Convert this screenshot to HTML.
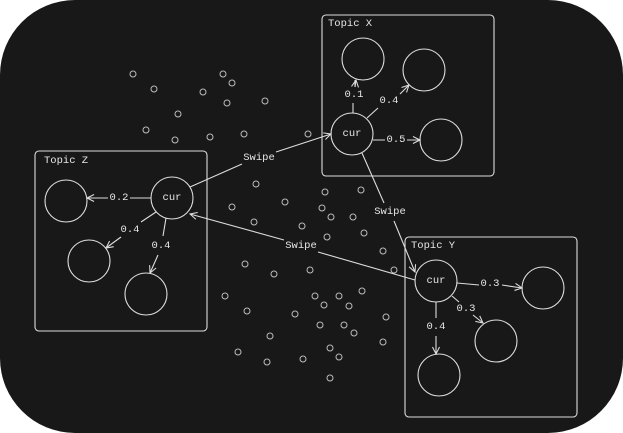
<!DOCTYPE html>
<html><head><style>
html,body{margin:0;padding:0;background:#fff;width:623px;height:433px;overflow:hidden}
svg text{font-family:"Liberation Mono",monospace;font-size:10.5px;fill:#e6e6e6;text-anchor:middle;dominant-baseline:central}
</style></head><body>
<svg width="623" height="433" viewBox="0 0 623 433" xmlns="http://www.w3.org/2000/svg">
<defs><marker id="a" viewBox="0 0 10 10" refX="9" refY="5" markerWidth="8" markerHeight="8" orient="auto"><path d="M1,1 L9,5 L1,9" fill="none" stroke="#ddd" stroke-width="1.2"/></marker></defs>
<rect x="0" y="0" width="623" height="433" rx="75" fill="#181818"/>
<g fill="none" stroke="#bbb" stroke-width="1">
<circle cx="133" cy="74" r="3"/><circle cx="154" cy="89" r="3"/><circle cx="223" cy="74" r="3"/><circle cx="232" cy="83" r="3"/><circle cx="203" cy="92" r="3"/><circle cx="227" cy="103" r="3"/><circle cx="265" cy="101" r="3"/><circle cx="178" cy="114" r="3"/><circle cx="146" cy="130" r="3"/><circle cx="175" cy="140" r="3"/><circle cx="210" cy="137" r="3"/><circle cx="244" cy="134" r="3"/><circle cx="308" cy="134" r="3"/>
<circle cx="256" cy="184" r="3"/><circle cx="325" cy="192" r="3"/><circle cx="361" cy="190" r="3"/><circle cx="232" cy="207" r="3"/><circle cx="285" cy="202" r="3"/><circle cx="322" cy="208" r="3"/><circle cx="331" cy="217" r="3"/><circle cx="353" cy="217" r="3"/><circle cx="254" cy="222" r="3"/><circle cx="302" cy="226" r="3"/><circle cx="327" cy="237" r="3"/><circle cx="364" cy="233" r="3"/><circle cx="383" cy="251" r="3"/><circle cx="245" cy="264" r="3"/><circle cx="274" cy="274" r="3"/><circle cx="310" cy="270" r="3"/><circle cx="394" cy="270" r="3"/><circle cx="225" cy="296" r="3"/><circle cx="315" cy="296" r="3"/><circle cx="339" cy="296" r="3"/><circle cx="362" cy="291" r="3"/><circle cx="247" cy="311" r="3"/><circle cx="324" cy="305" r="3"/><circle cx="349" cy="306" r="3"/><circle cx="295" cy="314" r="3"/><circle cx="386" cy="317" r="3"/><circle cx="320" cy="325" r="3"/><circle cx="344" cy="325" r="3"/><circle cx="354" cy="333" r="3"/><circle cx="270" cy="336" r="3"/><circle cx="383" cy="342" r="3"/><circle cx="238" cy="352" r="3"/><circle cx="330" cy="348" r="3"/><circle cx="339" cy="357" r="3"/><circle cx="267" cy="362" r="3"/><circle cx="303" cy="359" r="3"/><circle cx="330" cy="378" r="3"/>
</g>
<g fill="none" stroke="#ddd" stroke-width="1.1">
<rect x="322" y="15" width="172" height="161" rx="4"/>
<rect x="35" y="151" width="172" height="180" rx="4"/>
<rect x="405" y="237" width="172" height="180" rx="4"/>
<circle cx="363" cy="59" r="21"/><circle cx="424" cy="70" r="21"/><circle cx="352" cy="134" r="21"/><circle cx="441" cy="140" r="21"/>
<circle cx="66" cy="201" r="21"/><circle cx="172" cy="198" r="21"/><circle cx="89" cy="261" r="21"/><circle cx="146" cy="294" r="21"/>
<circle cx="436" cy="281" r="21"/><circle cx="543" cy="288" r="21"/><circle cx="496" cy="341" r="21"/><circle cx="439" cy="375" r="21"/>
<path d="M353,113 L353,103 M355,87 L355,80" /><path d="M355,87 L356,80" marker-end="url(#a)"/>
<path d="M367,118 L378,108 M400,94 L409,85" marker-end="url(#a)"/>
<path d="M373,140 L385,140 M407,140 L420,140" marker-end="url(#a)"/>
<path d="M151,198 L130,198 M108,198 L87,198" marker-end="url(#a)"/>
<path d="M156,212 L141,222 M121,237 L106,248" marker-end="url(#a)"/>
<path d="M166,218 L163,236 M158,255 L150,273" marker-end="url(#a)"/>
<path d="M457,283 L479,285 M502,285 L522,288" marker-end="url(#a)"/>
<path d="M452,296 L459,302 M473,315 L483,323" marker-end="url(#a)"/>
<path d="M436,302 L436,318 M436,336 L436,354" marker-end="url(#a)"/>
<path d="M190,187 L242,164 M276,152 L331,134" marker-end="url(#a)"/>
<path d="M362,153 L384,203 M394,221 L415,272" marker-end="url(#a)"/>
<path d="M415,280 L318,252 M284,240 L190,214" marker-end="url(#a)"/>
</g>
<g style="text-anchor:start"><text x="328" y="24" style="text-anchor:start">Topic X</text><text x="44" y="161" style="text-anchor:start">Topic Z</text><text x="411" y="246" style="text-anchor:start">Topic Y</text></g>
<text x="352" y="134">cur</text><text x="172" y="198">cur</text><text x="436" y="281">cur</text>
<text x="354" y="95">0.1</text><text x="389" y="101">0.4</text><text x="396" y="140">0.5</text>
<text x="119" y="198">0.2</text><text x="130" y="230">0.4</text><text x="161" y="246">0.4</text>
<text x="490" y="284">0.3</text><text x="466" y="309">0.3</text><text x="436" y="327">0.4</text>
<text x="259" y="158">Swipe</text><text x="390" y="212">Swipe</text><text x="301" y="246">Swipe</text>
</svg>
</body></html>
